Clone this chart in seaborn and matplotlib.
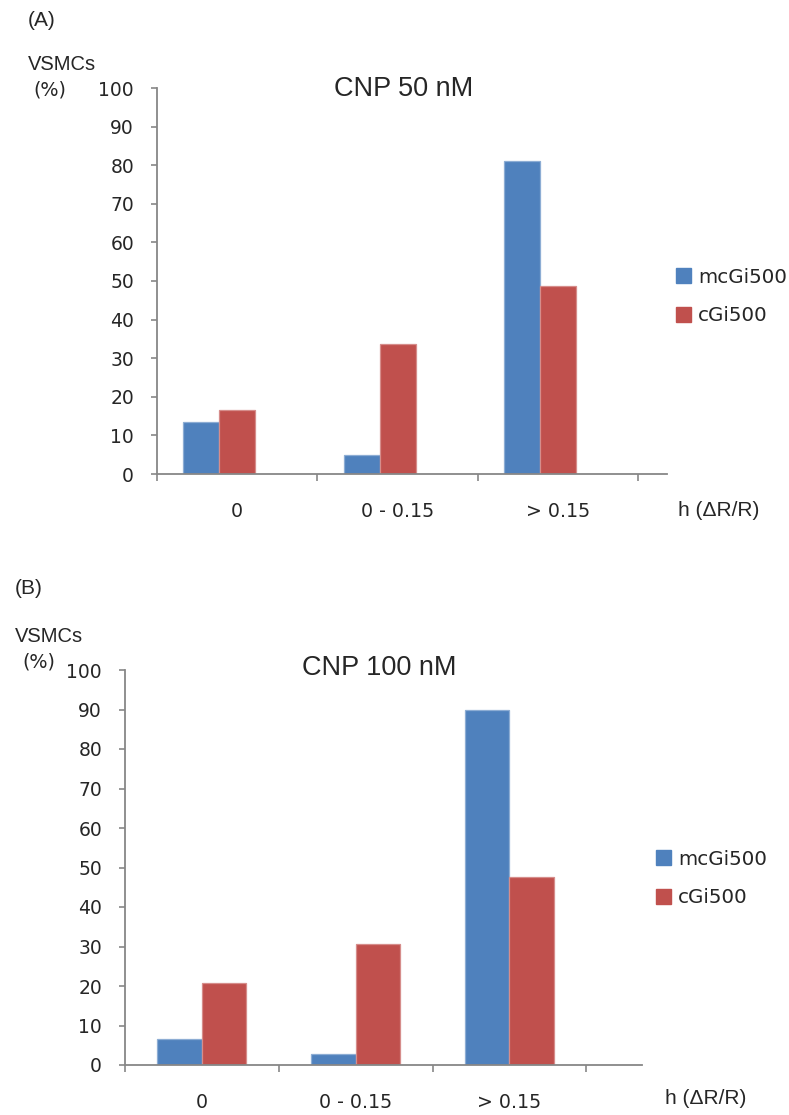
import matplotlib
matplotlib.use("Agg")
import matplotlib.pyplot as plt
from matplotlib.patches import Patch
from matplotlib import colors as mcolors
import numpy as np
import pandas as pd
import seaborn as sns

# ---- data -------------------------------------------------------------
categories = ["0", "0 - 0.15", "> 0.15"]
series = ["mcGi500", "cGi500"]

cnp50_mcgi = [13.5, 4.9, 81.0]
cnp50_cgi = [16.7, 33.6, 48.8]

cnp100_mcgi = [6.6, 2.7, 89.8]
cnp100_cgi = [20.7, 30.6, 47.6]

yticks = list(range(0, 101, 10))

BLUE = "#4F81BD"
RED = "#C0504D"
AXIS_GREY = "#878787"

sns.set_style("white")
plt.rcParams["font.family"] = ["DejaVu Sans"]

W, H = 789, 1115
fig = plt.figure(figsize=(W / 100, H / 100), dpi=100)


def fx(x):
    return x / W


def fy(y):
    return 1 - y / H


def draw_panel(ax, mc, cg, width, hue_levels, xmax):
    rows = []
    for c, v in zip(categories, mc):
        rows.append((c, series[0], v))
    for c, v in zip(categories, cg):
        rows.append((c, series[1], v))
    if len(hue_levels) > 2:
        # an empty third series keeps its slot in each group
        for c in categories:
            rows.append((c, hue_levels[2], np.nan))
    df = pd.DataFrame(rows, columns=["bin", "series", "pct"])
    pal = {series[0]: BLUE, series[1]: RED}
    for lvl in hue_levels[2:]:
        pal[lvl] = "white"
    sns.barplot(data=df, x="bin", y="pct", hue="series", order=categories,
                hue_order=hue_levels, palette=pal, width=width,
                errorbar=None, legend=False, saturation=1, ax=ax,
                linewidth=0.9)
    for p in ax.patches:
        fc = np.array(mcolors.to_rgb(p.get_facecolor()))
        p.set_edgecolor(tuple(fc + (1 - fc) * 0.35))

    ax.set_xlim(-0.5, xmax)
    ax.set_ylim(0, 100)
    ax.set_xlabel("")
    ax.set_ylabel("")
    for s in ["top", "right"]:
        ax.spines[s].set_visible(False)
    for s in ["left", "bottom"]:
        ax.spines[s].set_color(AXIS_GREY)
        ax.spines[s].set_linewidth(1.3)

    ax.set_yticks(yticks)
    ax.set_yticklabels([str(t) for t in yticks])
    ax.tick_params(axis="y", direction="out", length=4.5, width=1.2,
                   color=AXIS_GREY, pad=12, labelsize=13.5, left=True)
    ax.set_xticks(range(len(categories)))
    ax.set_xticklabels(categories)
    ax.tick_params(axis="x", which="major", length=0, pad=20, labelsize=13.7)
    ax.set_xticks(np.arange(-0.5, len(categories)), minor=True)
    ax.tick_params(axis="x", which="minor", direction="out", length=5,
                   width=1.2, color=AXIS_GREY, bottom=True)


# ---- panel A: CNP 50 nM ----------------------------------------------
axA = fig.add_axes([fx(157), fy(474), fx(667 - 157), (474 - 88) / H])
draw_panel(axA, cnp50_mcgi, cnp50_cgi, 0.673,
           [series[0], series[1], " "], 2.68)

# ---- panel B: CNP 100 nM ---------------------------------------------
axB = fig.add_axes([fx(125), fy(1065), fx(642 - 125), (1065 - 670) / H])
draw_panel(axB, cnp100_mcgi, cnp100_cgi, 0.579, series, 2.862)

# ---- annotations -----------------------------------------------------
SANS = ["Liberation Sans", "DejaVu Sans"]

def panel_text(tag, tag_xy, vs_xy, pct_xy, title, title_xy, xl_xy):
    fig.text(fx(tag_xy[0]), fy(tag_xy[1]), tag, family=SANS,
             fontsize=15, ha="left", va="center")
    fig.text(fx(vs_xy[0]), fy(vs_xy[1]), "VSMCs", family=SANS,
             fontsize=14.5, ha="left", va="center")
    fig.text(fx(pct_xy[0]), fy(pct_xy[1]), "(%)", fontsize=13.8,
             ha="left", va="center")
    fig.text(fx(title_xy[0]), fy(title_xy[1]), title, family=SANS,
             fontsize=19.5, ha="center", va="center")
    fig.text(fx(xl_xy[0]), fy(xl_xy[1]), "h (\u0394R/R)", family=SANS,
             fontsize=15, ha="left", va="center")


panel_text("(A)", (28, 20), (28, 65), (33, 90), "CNP 50 nM", (404, 89),
           (678, 510))
panel_text("(B)", (15, 589), (15, 637), (22, 662), "CNP 100 nM", (379, 668),
           (665, 1098))

handles = [Patch(facecolor=BLUE, edgecolor=BLUE, label=series[0]),
           Patch(facecolor=RED, edgecolor=RED, label=series[1])]
for anchor in [(fx(676), fy(296.5)), (fx(656), fy(878.5))]:
    fig.legend(handles=handles, loc="center left", bbox_to_anchor=anchor,
               frameon=False, fontsize=14.3, handlelength=0.75,
               handleheight=0.75, handletextpad=0.35, labelspacing=1.0,
               borderpad=0, borderaxespad=0)

fig.savefig("out.png", dpi=100)
